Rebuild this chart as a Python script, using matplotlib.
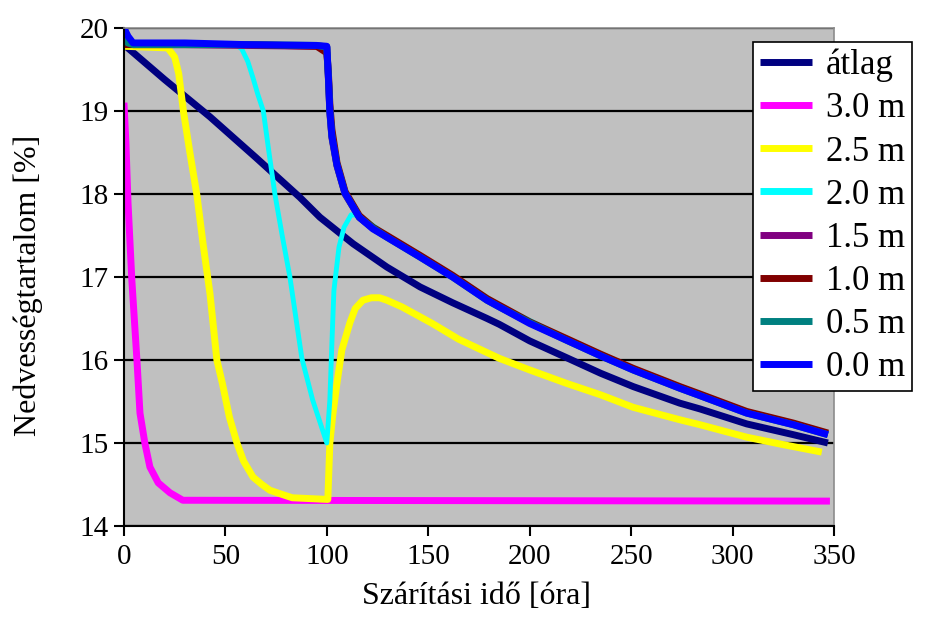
import matplotlib
matplotlib.use('Agg')
import matplotlib.pyplot as plt

# moisture content vs drying time
navy_x = [0, 20, 42.4, 65, 86.7, 96.6, 113, 129.6, 146, 162, 179, 185, 200, 218, 235, 251, 274, 284, 307, 330, 347]
navy_y = [19.8, 19.38, 18.93, 18.44, 17.96, 17.72, 17.4, 17.12, 16.88, 16.69, 16.5, 16.43, 16.23, 16.03, 15.84, 15.68, 15.48, 15.41, 15.23, 15.1, 15.0]

m30_x = [0, 1, 2, 3.9, 6.4, 7.9, 10.3, 12.8, 16.9, 22.7, 29, 348]
m30_y = [19.1, 18.6, 17.9, 16.96, 16.0, 15.36, 15.0, 14.71, 14.52, 14.4, 14.31, 14.3]

m25_x = [0, 21.6, 25, 27, 29.3, 32.5, 36, 39, 42.4, 45.8, 48.5, 52, 55.7, 59, 63.6, 68, 72, 78, 83,
         100.5, 101.5, 103, 105, 107.4, 111.4, 114, 117.8, 122, 126, 129.6, 137, 146, 152, 165, 185,
         200, 218, 235, 251, 274, 284, 307, 325, 344]
m25_y = [19.78, 19.76, 19.65, 19.45, 19.0, 18.5, 17.98, 17.4, 16.8, 16.0, 15.72, 15.31, 15.0, 14.78, 14.59, 14.5, 14.43, 14.38, 14.34,
         14.32, 15.0, 15.35, 15.72, 16.12, 16.45, 16.62, 16.72, 16.75, 16.75, 16.72, 16.64, 16.52, 16.44, 16.25, 16.02,
         15.88, 15.72, 15.58, 15.43, 15.28, 15.22, 15.07, 14.98, 14.89]

m20_x = [0, 55, 58, 61, 63.6, 66, 68.7, 71.5, 74.4, 78, 81.8, 87.7, 93, 100, 101.5, 102.5, 103.5, 106, 108.5, 112,
         116, 129.6, 146, 162, 185, 218, 251, 284, 307, 347]
m20_y = [19.8, 19.8, 19.75, 19.6, 19.4, 19.2, 19.0, 18.5, 18.0, 17.5, 17.0, 16.02, 15.52, 15.0, 15.52, 16.2, 16.84, 17.36, 17.6, 17.75,
         17.74, 17.5, 17.26, 17.02, 16.66, 16.26, 15.9, 15.59, 15.38, 15.12]

# the 1.5 / 1.0 / 0.5 / 0.0 m curves share one set of time points
near_x = [0, 2, 4.5, 30, 60, 95, 100, 100.8, 101.5, 102.5, 105, 109, 116, 122.7, 129.6, 146, 162, 179, 185, 200, 218,
          235, 251, 274, 284, 307, 330, 347]
m15_y = [19.82, 19.82, 19.8, 19.8, 19.79, 19.78, 19.77, 19.38, 18.98, 18.68, 18.34, 18.0, 17.72, 17.59, 17.49, 17.25, 17.01, 16.73, 16.65, 16.45, 16.25,
         16.06, 15.89, 15.67, 15.58, 15.37, 15.23, 15.11]
m10_y = [19.8, 19.8, 19.8, 19.8, 19.8, 19.78, 19.7, 19.45, 19.08, 18.78, 18.38, 18.03, 17.74, 17.6, 17.5, 17.26, 17.02, 16.74, 16.66, 16.46, 16.26,
         16.07, 15.9, 15.68, 15.59, 15.38, 15.24, 15.12]
m05_y = [19.85, 19.82, 19.8, 19.8, 19.8, 19.79, 19.77, 19.4, 19.0, 18.7, 18.35, 18.01, 17.72, 17.59, 17.48, 17.24, 17.0, 16.72, 16.64, 16.45, 16.24,
         16.05, 15.88, 15.66, 15.57, 15.36, 15.22, 15.1]
m00_y = [20.0, 19.9, 19.82, 19.82, 19.8, 19.79, 19.78, 19.4, 19.0, 18.7, 18.35, 18.01, 17.72, 17.58, 17.48, 17.24, 17.0, 16.72, 16.64, 16.44, 16.24,
         16.05, 15.88, 15.66, 15.57, 15.36, 15.22, 15.1]

x_ticks = [0, 50, 100, 150, 200, 250, 300, 350]
y_ticks = [14, 15, 16, 17, 18, 19, 20]

plt.rcParams['font.family'] = ['Liberation Serif', 'DejaVu Serif']

fig = plt.figure(figsize=(9.25, 6.17), dpi=100)
ax = fig.add_axes([0.134, 0.1475, 0.7676, 0.8071])
ax.set_facecolor('#c0c0c0')

series = [
    (navy_x, navy_y, 'átlag', '#000080', 5),
    (m30_x, m30_y, '3.0 m', '#ff00ff', 5),
    (m25_x, m25_y, '2.5 m', '#ffff00', 5),
    (m20_x, m20_y, '2.0 m', '#00ffff', 3.5),
    (near_x, m15_y, '1.5 m', '#800080', 5),
    (near_x, m10_y, '1.0 m', '#800000', 5),
    (near_x, m05_y, '0.5 m', '#008080', 5),
    (near_x, m00_y, '0.0 m', '#0000ff', 5),
]
for xs, ys, label, color, lw in series:
    ax.plot(xs, ys, color=color, linewidth=lw, label=label, solid_capstyle='butt')

ax.set_xlim(0, 350)
ax.set_ylim(14, 20)
ax.set_xticks(x_ticks)
ax.set_yticks(y_ticks)
ax.yaxis.grid(True, color='black', linewidth=1.6)
ax.set_axisbelow(True)

for side in ['left', 'bottom']:
    ax.spines[side].set_color('black')
    ax.spines[side].set_linewidth(1.5)
for side in ['top', 'right']:
    ax.spines[side].set_color('#8c8c8c')
    ax.spines[side].set_linewidth(1.2)

ax.tick_params(axis='both', direction='out', length=7, width=1.5, labelsize=21, colors='black')
ax.tick_params(axis='x', pad=6)
ax.tick_params(axis='y', pad=4)

ax.set_xlabel('Szárítási idő [óra]', fontsize=23)
ax.xaxis.set_label_coords(0.497, -0.112)
ax.set_ylabel('Nedvességtartalom [%]', fontsize=23)
ax.yaxis.set_label_coords(-0.114, 0.484)

leg = ax.legend(loc='upper left', bbox_to_anchor=(0.814, 0.932), bbox_transform=fig.transFigure,
                fontsize=25, frameon=True, fancybox=False, framealpha=1, edgecolor='black',
                handlelength=1.5, handletextpad=0.4, borderpad=0.2, labelspacing=0.29,
                borderaxespad=0)
leg.get_frame().set_linewidth(1.2)
for h in leg.legend_handles:
    h.set_linewidth(5)

plt.savefig('out.png', dpi=100, facecolor='white')
